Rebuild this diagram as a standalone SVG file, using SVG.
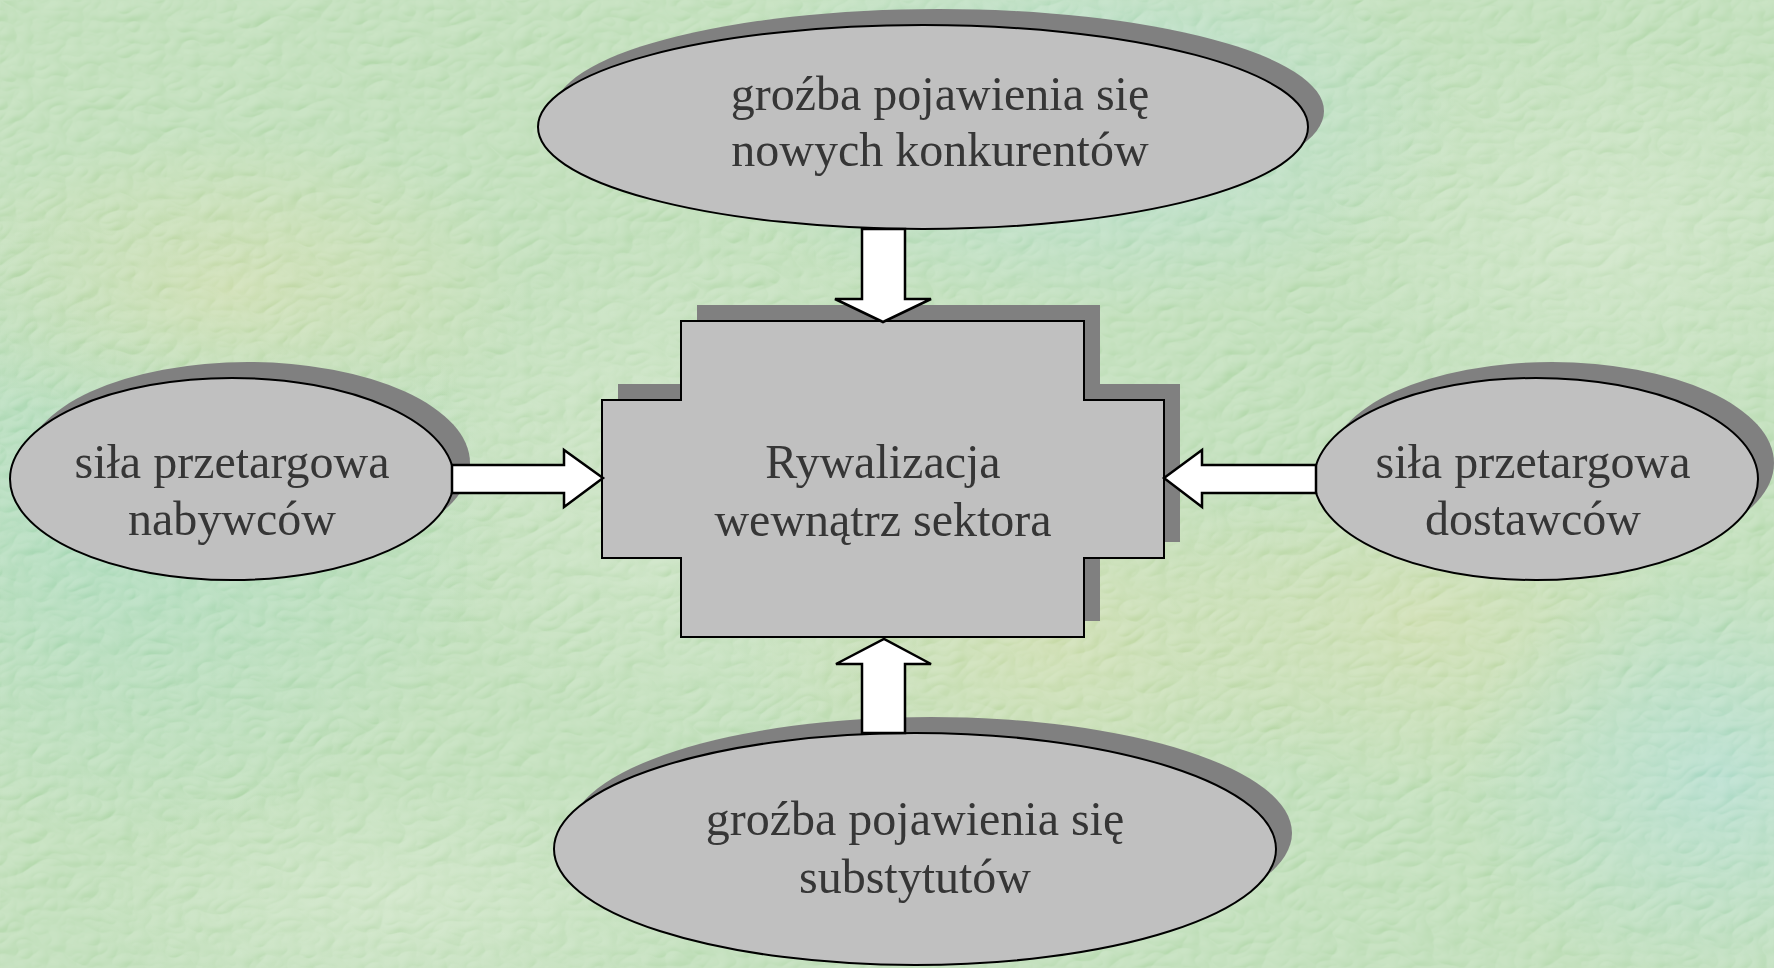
<svg xmlns="http://www.w3.org/2000/svg" width="1774" height="968" viewBox="0 0 1774 968">
<style>
.shape{fill:#c0c0c0;stroke:#000;stroke-width:2}
.shadow{fill:#808080}
.lbl{font-family:"Liberation Serif","Times New Roman",serif;font-size:48px;fill:#363636;text-anchor:middle}
.arrow{fill:#fff;stroke:#000;stroke-width:2.5;stroke-linejoin:miter}
</style>
<defs>
<radialGradient id="g1" cx="0.5" cy="0.5" r="0.5"><stop offset="0" stop-color="#8fcfa8" stop-opacity="0.9"/><stop offset="1" stop-color="#8fcfa8" stop-opacity="0"/></radialGradient>
<radialGradient id="g2" cx="0.5" cy="0.5" r="0.5"><stop offset="0" stop-color="#c2d394" stop-opacity="0.8"/><stop offset="1" stop-color="#c2d394" stop-opacity="0"/></radialGradient>
<radialGradient id="g3" cx="0.5" cy="0.5" r="0.5"><stop offset="0" stop-color="#9bd3c0" stop-opacity="0.9"/><stop offset="1" stop-color="#9bd3c0" stop-opacity="0"/></radialGradient>
<radialGradient id="g4" cx="0.5" cy="0.5" r="0.5"><stop offset="0" stop-color="#c8e0bc" stop-opacity="0.6"/><stop offset="1" stop-color="#c8e0bc" stop-opacity="0"/></radialGradient>
<filter id="tex" x="0" y="0" width="100%" height="100%">
<feTurbulence type="turbulence" baseFrequency="0.03 0.045" numOctaves="2" seed="7" result="n"/>
<feDiffuseLighting in="n" surfaceScale="3" lighting-color="#ffffff" diffuseConstant="1" result="l"><feDistantLight azimuth="225" elevation="55"/></feDiffuseLighting>
</filter>
</defs>
<g id="background">
<rect width="1774" height="968" fill="#a9d3a0"/>
<ellipse cx="120" cy="520" rx="380" ry="320" fill="url(#g1)"/>
<ellipse cx="230" cy="290" rx="300" ry="160" fill="url(#g2)"/>
<ellipse cx="1050" cy="640" rx="320" ry="200" fill="url(#g2)"/>
<ellipse cx="1420" cy="620" rx="260" ry="180" fill="url(#g2)"/>
<ellipse cx="1720" cy="780" rx="260" ry="220" fill="url(#g3)"/>
<ellipse cx="1080" cy="120" rx="380" ry="200" fill="url(#g3)"/>
<ellipse cx="1600" cy="230" rx="280" ry="200" fill="url(#g4)"/>
<ellipse cx="400" cy="900" rx="320" ry="120" fill="url(#g4)"/>
<ellipse cx="700" cy="480" rx="300" ry="260" fill="url(#g4)"/>
<rect width="1774" height="968" filter="url(#tex)" opacity="0.4" style="mix-blend-mode:overlay"/>
</g>
<g id="node-buyers">
<ellipse class="shadow" cx="248" cy="463" rx="222" ry="101"/>
<ellipse class="shape" cx="232" cy="479" rx="222" ry="101"/>
<text class="lbl" x="232" y="478">siła przetargowa</text>
<text class="lbl" x="232" y="535">nabywców</text>
</g>
<g id="node-suppliers">
<ellipse class="shadow" cx="1552" cy="463" rx="222" ry="101"/>
<ellipse class="shape" cx="1536" cy="479" rx="222" ry="101"/>
<text class="lbl" x="1533" y="478">siła przetargowa</text>
<text class="lbl" x="1533" y="535">dostawców</text>
</g>
<g id="node-entrants">
<ellipse class="shadow" cx="939" cy="111" rx="385" ry="102"/>
<ellipse class="shape" cx="923" cy="127" rx="385" ry="102"/>
<text class="lbl" x="940" y="110">groźba pojawienia się</text>
<text class="lbl" x="940" y="166">nowych konkurentów</text>
</g>
<g id="node-substitutes">
<ellipse class="shadow" cx="931" cy="833" rx="361" ry="116"/>
<ellipse class="shape" cx="915" cy="849" rx="361" ry="116"/>
<text class="lbl" x="915" y="835">groźba pojawienia się</text>
<text class="lbl" x="915" y="893">substytutów</text>
</g>
<g id="node-rivalry">
<polygon class="shadow" transform="translate(16,-16)" points="681,321 1084,321 1084,400 1164,400 1164,558 1084,558 1084,637 681,637 681,558 602,558 602,400 681,400"/>
<polygon class="shape" points="681,321 1084,321 1084,400 1164,400 1164,558 1084,558 1084,637 681,637 681,558 602,558 602,400 681,400"/>
<text class="lbl" x="883" y="478">Rywalizacja</text>
<text class="lbl" x="883" y="536">wewnątrz sektora</text>
</g>
<g id="connectors">
<polygon class="arrow" points="862,229 905,229 905,299 931,299 883,322 835,299 862,299"/>
<polygon class="arrow" points="862,733 905,733 905,664 931,664 884,639 836,664 862,664"/>
<polygon class="arrow" points="452,465 564,465 564,450 603,478 564,507 564,493 452,493"/>
<polygon class="arrow" points="1316,465 1202,465 1202,450 1164,478 1202,507 1202,493 1316,493"/>
</g>
</svg>
